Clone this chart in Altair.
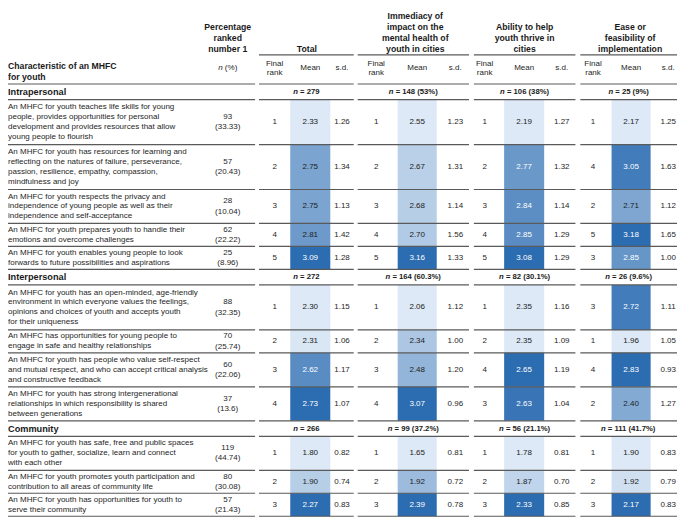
import altair as alt
import pandas as pd

# ---------------- data ----------------
sections = ["Intrapersonal", "Interpersonal", "Community"]

characteristics = [
    [
        "An MHFC for youth teaches life skills for young\npeople, provides opportunities for personal\ndevelopment and provides resources that allow\nyoung people to flourish",
        "An MHFC for youth has resources for learning and\nreflecting on the natures of failure, perseverance,\npassion, resilience, empathy, compassion,\nmindfulness and joy",
        "An MHFC for youth respects the privacy and\nindependence of young people as well as their\nindependence and self-acceptance",
        "An MHFC for youth prepares youth to handle their\nemotions and overcome challenges",
        "An MHFC for youth enables young people to look\nforwards to future possibilities and aspirations",
    ],
    [
        "An MHFC for youth has an open-minded, age-friendly\nenvironment in which everyone values the feelings,\nopinions and choices of youth and accepts youth\nfor their uniqueness",
        "An MHFC has opportunities for young people to\nengage in safe and healthy relationships",
        "An MHFC for youth has people who value self-respect\nand mutual respect, and who can accept critical analysis\nand constructive feedback",
        "An MHFC for youth has strong intergenerational\nrelationships in which responsibility is shared\nbetween generations",
    ],
    [
        "An MHFC for youth has safe, free and public spaces\nfor youth to gather, socialize, learn and connect\nwith each other",
        "An MHFC for youth promotes youth participation and\ncontribution to all areas of community life",
        "An MHFC for youth has opportunities for youth to\nserve their community",
    ],
]

ranked_first_n = [[93, 57, 28, 62, 25], [88, 70, 60, 37], [119, 80, 57]]
ranked_first_pct = [[33.33, 20.43, 10.04, 22.22, 8.96], [32.35, 25.74, 22.06, 13.6], [44.74, 30.08, 21.43]]

criteria = [
    "Total",
    "Immediacy of\nimpact on the\nmental health of\nyouth in cities",
    "Ability to help\nyouth thrive in\ncities",
    "Ease or\nfeasibility of\nimplementation",
]
n_labels = [
    ["279", "272", "266"],
    ["148 (53%)", "164 (60.3%)", "99 (37.2%)"],
    ["106 (38%)", "82 (30.1%)", "56 (21.1%)"],
    ["25 (9%)", "26 (9.6%)", "111 (41.7%)"],
]

total_rank = [[1, 2, 3, 4, 5], [1, 2, 3, 4], [1, 2, 3]]
total_mean = [[2.33, 2.75, 2.75, 2.81, 3.09], [2.30, 2.31, 2.62, 2.73], [1.80, 1.90, 2.27]]
total_sd = [[1.26, 1.34, 1.13, 1.42, 1.28], [1.15, 1.06, 1.17, 1.07], [0.82, 0.74, 0.83]]

imm_rank = [[1, 2, 3, 4, 5], [1, 2, 3, 4], [1, 2, 3]]
imm_mean = [[2.55, 2.67, 2.68, 2.70, 3.16], [2.06, 2.34, 2.48, 3.07], [1.65, 1.92, 2.39]]
imm_sd = [[1.23, 1.31, 1.14, 1.56, 1.33], [1.12, 1.00, 1.20, 0.96], [0.81, 0.72, 0.78]]

abl_rank = [[1, 2, 3, 4, 5], [1, 2, 4, 3], [1, 2, 3]]
abl_mean = [[2.19, 2.77, 2.84, 2.85, 3.08], [2.35, 2.35, 2.65, 2.63], [1.78, 1.87, 2.33]]
abl_sd = [[1.27, 1.32, 1.14, 1.29, 1.29], [1.16, 1.09, 1.19, 1.04], [0.81, 0.70, 0.85]]

ease_rank = [[1, 4, 2, 5, 3], [3, 1, 4, 2], [1, 2, 3]]
ease_mean = [[2.17, 3.05, 2.71, 3.18, 2.85], [2.72, 1.96, 2.83, 2.40], [1.90, 1.92, 2.17]]
ease_sd = [[1.25, 1.63, 1.12, 1.65, 1.00], [1.11, 1.05, 0.93, 1.27], [0.83, 0.79, 0.83]]

crit_rank = [total_rank, imm_rank, abl_rank, ease_rank]
crit_mean = [total_mean, imm_mean, abl_mean, ease_mean]
crit_sd = [total_sd, imm_sd, abl_sd, ease_sd]

# ---------------- layout (reference pixel units) ----------------
REF_W, REF_H = 685, 522
CH_W, CH_H = 677, 514
SX = CH_W / REF_W
FONT = "Liberation Sans"
GROUP_SPANS = [(0, 253), (257, 354), (358, 472), (477, 581), (586, 685)]
COLS = [(273, 289, 330, 342), (377, 399, 439, 458), (488, 508, 549, 567), (599, 618, 658, 676)]
HDR_X = [306, 417, 529, 637]
PCT_X = 225
HEAD_BOTTOM = 75
SEC_H = 16
LINE_H = 11.3
ROW_PAD = 1
DESC_LH = 10.2
PCT_LH = 10.6
HDR_LH = 11.3
HDR_BASE = 39
LIGHT, DARK = "#dde9f6", "#2c6cb1"
FS_BODY = 8.1
FS_HDR = 8.8
FS_SEC = 9.3
FS_N = 7.8

W_REG = {**{d: .556 for d in "0123456789"}, " ": .278, "(": .333, ")": .333, "%": .889, ".": .278, "=": .584, "n": .556}
W_BOLD = {**{d: .556 for d in "0123456789"}, " ": .278, "(": .333, ")": .333, "%": .889, ".": .278, "=": .584, "n": .611}


def width_ref(s, table, fs):
    return sum(table.get(c, .556) for c in s) * fs / SX


styles = ["desc", "num", "hdr", "bold_left", "sec", "nbold", "nital", "ital", "reg_left", "mean"]
T = {k: [] for k in styles}
rects, rules = [], []


def split_n(cx, cy, rest, table, fs, kind_it, kind_rest):
    # italic "n" followed by the rest of the label (leading space is positional)
    w_n = width_ref("n", table, fs) + width_ref(" ", table, fs)
    w_r = width_ref(rest, table, fs)
    xs = cx - (w_n + w_r) / 2
    T[kind_it].append(dict(x=xs, y=cy, text="n"))
    T[kind_rest].append(dict(x=xs + w_n, y=cy, text=rest))


# header
for i, ln in enumerate(["Percentage", "ranked", "number 1"]):
    T["hdr"].append(dict(x=PCT_X, y=HDR_BASE - (2 - i) * HDR_LH, text=ln))
for c, name in enumerate(criteria):
    lines = name.split("\n")
    for i, ln in enumerate(lines):
        T["hdr"].append(dict(x=HDR_X[c], y=HDR_BASE - (len(lines) - 1 - i) * HDR_LH, text=ln))
    rk, lo, hi, sdx = COLS[c]
    T["num"].append(dict(x=rk, y=54, text="Final"))
    T["num"].append(dict(x=rk, y=64, text="rank"))
    T["num"].append(dict(x=(lo + hi) / 2, y=59, text="Mean"))
    T["num"].append(dict(x=sdx, y=59, text="s.d."))
T["bold_left"].append(dict(x=0, y=57, text="Characteristic of an MHFC"))
T["bold_left"].append(dict(x=0, y=68, text="for youth"))
split_n(PCT_X, 59, "(%)", W_REG, FS_BODY, "ital", "reg_left")

for a, b in GROUP_SPANS[1:]:
    rules.append(dict(x=a, x2=b, y=45))

y = HEAD_BOTTOM
rule_ys = [HEAD_BOTTOM]
for s, sec in enumerate(sections):
    sc = y + SEC_H / 2
    T["sec"].append(dict(x=0, y=sc, text=sec))
    for c in range(4):
        a, b = GROUP_SPANS[c + 1]
        split_n((a + b) / 2, sc, "= " + n_labels[c][s], W_BOLD, FS_N, "nital", "nbold")
    y += SEC_H
    rule_ys.append(y)
    for r, desc in enumerate(characteristics[s]):
        lines = desc.split("\n")
        top = y
        bot = y + ROW_PAD + LINE_H * len(lines)
        cy = (top + bot) / 2
        for i, ln in enumerate(lines):
            T["desc"].append(dict(x=0, y=cy + (i - (len(lines) - 1) / 2) * DESC_LH, text=ln))
        T["num"].append(dict(x=PCT_X, y=cy - PCT_LH / 2, text=str(ranked_first_n[s][r])))
        T["num"].append(dict(x=PCT_X, y=cy + PCT_LH / 2, text="(" + str(ranked_first_pct[s][r]) + ")"))
        for c in range(4):
            rk, lo, hi, sdx = COLS[c]
            vals = crit_mean[c][s]
            m = vals[r]
            t = (m - min(vals)) / (max(vals) - min(vals))
            rects.append(dict(x=lo, x2=hi, y=top, y2=bot, t=t))
            T["num"].append(dict(x=rk, y=cy, text=str(crit_rank[c][s][r])))
            T["num"].append(dict(x=sdx, y=cy, text=f"{crit_sd[c][s][r]:.2f}"))
            T["mean"].append(dict(x=(lo + hi) / 2, y=cy, text=f"{m:.2f}",
                                  tc="#ffffff" if t > 0.64 else "#222222"))
        y = bot
        rule_ys.append(y)

for yy in rule_ys:
    for a, b in GROUP_SPANS:
        rules.append(dict(x=a, x2=b, y=yy))

# ---------------- chart ----------------
X = alt.X("x:Q", scale=alt.Scale(domain=[0, REF_W], nice=False, zero=False), axis=None)
Y = alt.Y("y:Q", scale=alt.Scale(domain=[0, REF_H], nice=False, zero=False, reverse=True), axis=None)

rect_layer = alt.Chart(pd.DataFrame(rects)).mark_rect().encode(
    x=X, x2="x2:Q", y=Y, y2="y2:Q",
    fill=alt.Fill("t:Q", scale=alt.Scale(domain=[0, 1], range=[LIGHT, DARK], interpolate="rgb"), legend=None),
)
rule_layer = alt.Chart(pd.DataFrame(rules)).mark_rule(color="#5a5a5a", strokeWidth=1.2).encode(
    x=X, x2="x2:Q", y=Y
)


def tl(key, **kw):
    base = dict(baseline="middle", font=FONT)
    base.update(kw)
    return alt.Chart(pd.DataFrame(T[key])).mark_text(**base).encode(x=X, y=Y, text="text:N")


layers = [
    rect_layer,
    rule_layer,
    tl("desc", align="left", fontSize=FS_BODY, color="#262626"),
    tl("num", align="center", fontSize=FS_BODY, color="#262626"),
    tl("hdr", align="center", fontSize=FS_HDR, fontWeight="bold", color="#1a1a1a"),
    tl("bold_left", align="left", fontSize=FS_HDR, fontWeight="bold", color="#1a1a1a"),
    tl("sec", align="left", fontSize=FS_SEC, fontWeight="bold", color="#1a1a1a"),
    tl("nbold", align="left", fontSize=FS_N, fontWeight="bold", color="#1a1a1a"),
    tl("nital", align="left", fontSize=FS_N, fontWeight="bold", fontStyle="italic", color="#1a1a1a"),
    tl("ital", align="left", fontSize=FS_BODY, fontStyle="italic", color="#262626"),
    tl("reg_left", align="left", fontSize=FS_BODY, color="#262626"),
    alt.Chart(pd.DataFrame(T["mean"])).mark_text(baseline="middle", align="center", font=FONT,
                                                 fontSize=FS_BODY).encode(
        x=X, y=Y, text="text:N", color=alt.Color("tc:N", scale=None)),
]

chart = alt.layer(*layers).properties(
    width=CH_W, height=CH_H, padding=0, autosize=alt.AutoSizeParams(type="none")
).configure_view(stroke=None)

chart.save("out.html", embed_options={"renderer": "svg", "actions": False})
